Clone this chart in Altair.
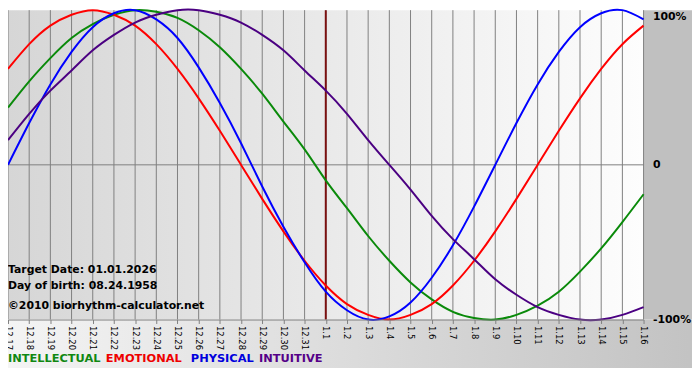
import altair as alt
import pandas as pd

days = ["12.17", "12.18", "12.19", "12.20", "12.21", "12.22", "12.23", "12.24",
        "12.25", "12.26", "12.27", "12.28", "12.29", "12.30", "12.31",
        "1.1", "1.2", "1.3", "1.4", "1.5", "1.6", "1.7", "1.8", "1.9", "1.10",
        "1.11", "1.12", "1.13", "1.14", "1.15", "1.16"]

physical = [0, 27, 52, 73, 89, 98, 100, 94, 82, 63, 40, 14, -14, -40, -63, -82,
            -94, -100, -98, -89, -73, -52, -27, 0, 27, 52, 73, 89, 98, 100, 94]
emotional = [62, 78, 90, 97, 100, 97, 90, 78, 62, 43, 22, 0, -22, -43, -62, -78,
             -90, -97, -100, -97, -90, -78, -62, -43, -22, 0, 22, 43, 62, 78, 90]
intellectual = [37, 54, 69, 82, 91, 97, 100, 99, 95, 87, 76, 62, 46, 28, 10, -10,
                -28, -46, -62, -76, -87, -95, -99, -100, -97, -91, -82, -69, -54, -37, -19]
intuitive = [16, 33, 48, 61, 74, 84, 92, 97, 100, 100, 97, 92, 84, 74, 61, 48,
             33, 16, 0, -16, -33, -48, -61, -74, -84, -92, -97, -100, -100, -97, -92]

series_names = ["INTELLECTUAL", "EMOTIONAL", "PHYSICAL", "INTUITIVE"]
series_colors = ["#0a8a0a", "#ff0000", "#0000ff", "#4b0082"]
legend_colors = ["#118811", "#ee0000", "#0000dd", "#550088"]
target_index = 15
annotations = ["Target Date: 01.01.2026", "Day of birth: 08.24.1958",
               "\u00a92010 biorhythm-calculator.net"]
y_ticks = [100, 0, -100]
y_tick_labels = ["100%", "0", "-100%"]

W, H = 643, 313
FONT = "DejaVu Sans"

rows = []
for name, vals in zip(series_names, [intellectual, emotional, physical, intuitive]):
    for i, v in enumerate(vals):
        rows.append({"d": i, "v": v, "s": name})
df = pd.DataFrame(rows)
df_days = pd.DataFrame({"d": list(range(len(days)))})
one = pd.DataFrame({"k": [0]})

label_js = "[" + ",".join("'" + s + "'" for s in days) + "][datum.value]"
ylab_js = "datum.value == 100 ? '" + y_tick_labels[0] + "' : (datum.value == 0 ? '" + \
    y_tick_labels[1] + "' : '" + y_tick_labels[2] + "')"

plot_grad = alt.LinearGradient(
    gradient="linear", x1=0, x2=1, y1=0, y2=0,
    stops=[alt.GradientStop(color="#d6d6d6", offset=0),
           alt.GradientStop(color="#fdfdfd", offset=1)])
bottom_grad = alt.LinearGradient(
    gradient="linear", x1=0, x2=1, y1=0, y2=0,
    stops=[alt.GradientStop(color="#f4f4f4", offset=0),
           alt.GradientStop(color="#c2c2c2", offset=1)])

xscale = alt.Scale(domain=[0, len(days) - 1], nice=False, zero=False)
yscale = alt.Scale(domain=[-100, 100], nice=False)

x_axis = alt.Axis(values=list(range(len(days))), labelExpr=label_js,
                  labelAngle=90, labelFontSize=8.5, labelFont=FONT,
                  labelColor="black", labelOverlap=False, labelBound=False,
                  labelFlush=False, grid=False, domainColor="#808080",
                  tickColor="#808080", tickSize=4, labelPadding=2, zindex=2)
y_axis = alt.Axis(orient="right", values=y_ticks, labelExpr=ylab_js,
                  labelFontSize=11, labelFontWeight="bold", labelFont=FONT,
                  labelColor="black", grid=False, domain=False, ticks=False,
                  labelPadding=9, labelFlush=False, zindex=2,
                  labelBaseline={"condition": {"test": "datum.value == 100", "value": "top"},
                                 "value": "middle"})

bg_plot = alt.Chart(one).mark_rect(color=plot_grad).encode(
    x=alt.value(0), x2=alt.value(W), y=alt.value(0), y2=alt.value(H))
bg_right = alt.Chart(one).mark_rect(color="#c0c0c0").encode(
    x=alt.value(W), x2=alt.value(W + 60), y=alt.value(0), y2=alt.value(H))
bg_bottom = alt.Chart(one).mark_rect(color=bottom_grad).encode(
    x=alt.value(0), x2=alt.value(W + 60), y=alt.value(H), y2=alt.value(H + 49))

grid = alt.Chart(df_days).mark_rule(color="#808080", strokeWidth=1).encode(
    x=alt.X("d:Q", title=None, scale=xscale, axis=x_axis))
zero = alt.Chart(pd.DataFrame({"v": [0]})).mark_rule(color="#808080", strokeWidth=1).encode(
    y=alt.Y("v:Q", title=None, scale=yscale, axis=y_axis))
target = alt.Chart(pd.DataFrame({"d": [target_index]})).mark_rule(
    color="#7a1010", strokeWidth=2).encode(
    x=alt.X("d:Q", title=None, scale=xscale, axis=x_axis))

lines = alt.Chart(df).mark_line(strokeWidth=2, interpolate="natural").encode(
    x=alt.X("d:Q", title=None, scale=xscale, axis=x_axis),
    y=alt.Y("v:Q", title=None, scale=yscale, axis=y_axis),
    color=alt.Color("s:N", scale=alt.Scale(domain=series_names, range=series_colors),
                    legend=None),
    order=alt.Order("d:Q"),
)

layers = [bg_plot, bg_right, bg_bottom, grid, zero, target, lines]

ann_y = [263, 279, 299]
for txt, yy in zip(annotations, ann_y):
    layers.append(alt.Chart(one).mark_text(
        text=txt, align="left", baseline="middle", font=FONT, fontSize=11,
        fontWeight="bold", color="black").encode(x=alt.value(0), y=alt.value(yy)))

leg_x = [0, 99, 185, 254]
for name, col, xx in zip(series_names, legend_colors, leg_x):
    layers.append(alt.Chart(one).mark_text(
        text=name, align="left", baseline="middle", font=FONT, fontSize=11.5,
        fontWeight="bold", color=col).encode(x=alt.value(xx), y=alt.value(353)))

chart = alt.layer(*layers).properties(
    width=W, height=H,
    autosize=alt.AutoSizeParams(type="none"),
    padding={"left": 0, "top": 0, "right": 49, "bottom": 59},
    background="white",
).configure_view(stroke=None).configure_axis(labelOverlap=False)

chart.save("out.html", embed_options={"renderer": "svg", "actions": False})
